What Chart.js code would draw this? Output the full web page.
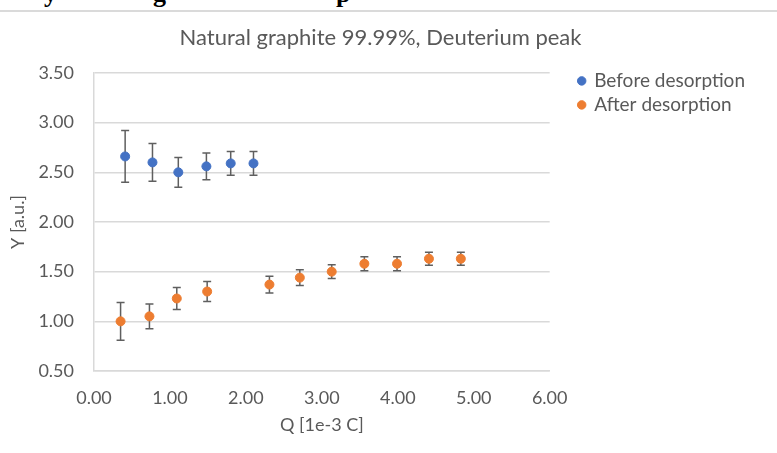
<!DOCTYPE html>
<html>
<head>
<meta charset="utf-8">
<script src="https://cdn.jsdelivr.net/npm/chart.js@4/dist/chart.umd.min.js"></script>
<style>
    body { margin: 0; background: #fff; }
    #wrap { position: absolute; left: 0; top: 0; width: 777px; height: 453px; }
    #doc { position: absolute; left: 0; top: 0; width: 777px; height: 10px; overflow: hidden; border-bottom: 2px solid #dadada; background: #fff; z-index: 2; }
    #doc span { position: absolute; top: -21px; font: bold 26px "Liberation Serif", serif; color: #000; }
</style>
</head>
<body>
<div id="doc"><span style="left:44px">y</span><span style="left:153px">g</span><span style="left:336px">p</span></div>
<div id="wrap"><canvas id="canvas" width="777" height="453"></canvas></div>
<script>
// values
var beforeX = [0.41, 0.77, 1.11, 1.48, 1.80, 2.10];
var beforeY = [2.66, 2.60, 2.50, 2.56, 2.59, 2.59];
var beforeErr = [0.26, 0.19, 0.15, 0.135, 0.12, 0.12];

var afterX = [0.35, 0.73, 1.09, 1.49, 2.31, 2.71, 3.13, 3.56, 3.99, 4.41, 4.83];
var afterY = [1.00, 1.05, 1.23, 1.30, 1.37, 1.44, 1.50, 1.58, 1.58, 1.63, 1.63];
var afterErr = [0.19, 0.125, 0.11, 0.10, 0.085, 0.08, 0.07, 0.07, 0.07, 0.065, 0.065];

function toPoints(xs, ys, errs) {
    return xs.map(function (x, i) {
        return { x: x, y: ys[i], err: errs[i] };
    });
}

var textColor = "#595959";
var gridColor = "#d9d9d9";

// vertical error bars with caps, drawn under the markers
var errorBars = {
    id: "errorBars",
    beforeDatasetsDraw: function (chart) {
        var ctx = chart.ctx;
        var xs = chart.scales.x, ys = chart.scales.y;
        ctx.save();
        ctx.strokeStyle = "#5f5f5f";
        ctx.lineWidth = 1.5;
        chart.data.datasets.forEach(function (ds) {
            ds.data.forEach(function (p) {
                var px = xs.getPixelForValue(p.x);
                var top = ys.getPixelForValue(p.y + p.err);
                var bot = ys.getPixelForValue(p.y - p.err);
                ctx.beginPath();
                ctx.moveTo(px, top); ctx.lineTo(px, bot);
                ctx.moveTo(px - 4, top); ctx.lineTo(px + 4, top);
                ctx.moveTo(px - 4, bot); ctx.lineTo(px + 4, bot);
                ctx.stroke();
            });
        });
        ctx.restore();
    }
};

var ctx = document.getElementById("canvas");

new Chart(ctx, {
    type: "scatter",
    data: {
        datasets: [{
            label: "Before desorption",
            data: toPoints(beforeX, beforeY, beforeErr),
            backgroundColor: "#4472c4",
            borderColor: "#4472c4",
            pointRadius: 4.5,
            pointHoverRadius: 4.5
        }, {
            label: "After desorption",
            data: toPoints(afterX, afterY, afterErr),
            backgroundColor: "#ed7d31",
            borderColor: "#ed7d31",
            pointRadius: 4.5,
            pointHoverRadius: 4.5
        }]
    },
    options: {
        responsive: false,
        animation: false,
        layout: { padding: { left: 6, top: 25, right: 22, bottom: 12 } },
        plugins: {
            title: {
                display: true,
                text: "Natural graphite 99.99%, Deuterium peak",
                color: textColor,
                font: { family: "Lato", size: 22, weight: "normal" },
                padding: { top: 0, bottom: 21.6 }
            },
            legend: {
                position: "right",
                align: "start",
                maxWidth: 220,
                title: { display: true, text: "", padding: { top: 27, bottom: 0 } },
                labels: {
                    usePointStyle: true,
                    pointStyle: "circle",
                    boxWidth: 6,
                    boxHeight: 6,
                    color: textColor,
                    font: { family: "Lato", size: 19 },
                    padding: 5
                }
            },
            tooltip: { enabled: false }
        },
        scales: {
            x: {
                min: 0,
                max: 6,
                ticks: {
                    stepSize: 1,
                    color: textColor,
                    font: { family: "Lato", size: 18 },
                    padding: 16,
                    callback: function (v) { return v.toFixed(2); }
                },
                grid: { display: false, drawTicks: false },
                border: { display: true, color: gridColor, width: 1.5 },
                title: {
                    display: true,
                    text: "Q [1e-3 C]",
                    color: textColor,
                    font: { family: "Lato", size: 18 },
                    padding: { top: 4, bottom: 5 }
                },
                afterFit: function (scale) { scale.height = 70; }
            },
            y: {
                min: 0.5,
                max: 3.5,
                ticks: {
                    stepSize: 0.5,
                    color: textColor,
                    font: { family: "Lato", size: 18 },
                    padding: 20,
                    callback: function (v) { return v.toFixed(2); }
                },
                grid: { color: gridColor, lineWidth: 1.5, drawTicks: false },
                border: { display: true, color: gridColor, width: 1.5 },
                title: {
                    display: true,
                    text: "Y [a.u.]",
                    color: textColor,
                    font: { family: "Lato", size: 18 },
                    padding: { top: 1, bottom: 0 }
                },
                afterFit: function (scale) { scale.width = 88; }
            },
            // empty right-hand axis, only keeps a gap between plot and legend
            gap: {
                type: "linear",
                position: "right",
                ticks: { display: false },
                grid: { display: false },
                border: { display: false },
                afterFit: function (scale) { scale.width = 24; }
            }
        }
    },
    plugins: [errorBars]
});
</script>
</body>
</html>
